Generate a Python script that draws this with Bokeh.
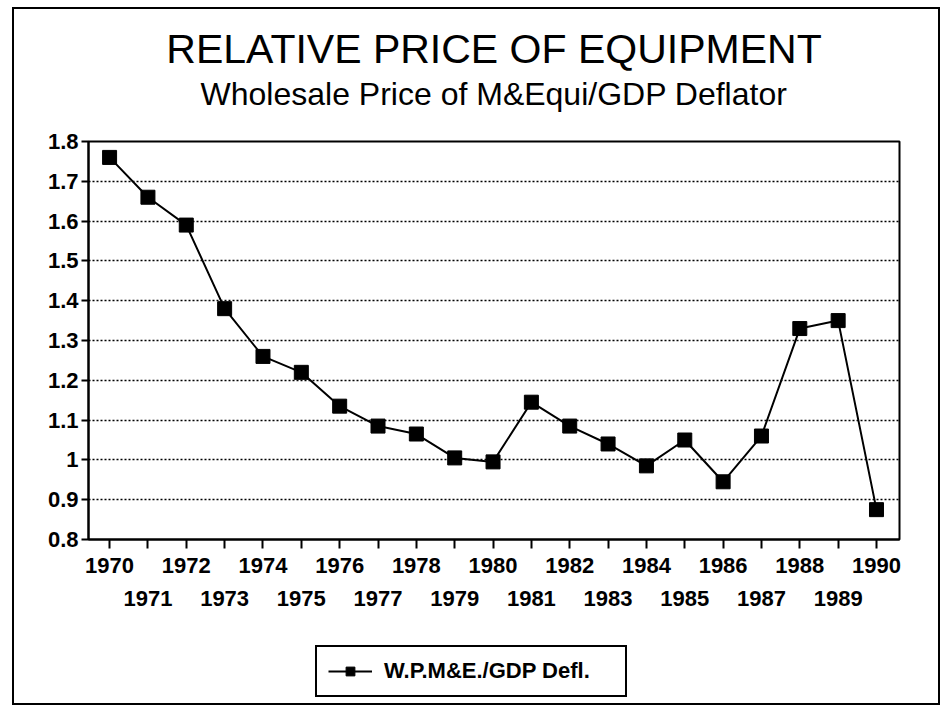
from bokeh.plotting import figure
from bokeh.models import Title, FixedTicker, LinearAxis, Legend, LegendItem, Range1d, Spacer
from bokeh.layouts import column, row
from bokeh.embed import file_html
from bokeh.resources import INLINE

years = list(range(1970, 1991))
values = [1.76, 1.66, 1.59, 1.38, 1.26, 1.22, 1.135, 1.085, 1.065, 1.005, 0.995,
          1.145, 1.085, 1.04, 0.985, 1.05, 0.945, 1.06, 1.33, 1.35, 0.875]
y_ticks = [0.8, 0.9, 1.0, 1.1, 1.2, 1.3, 1.4, 1.5, 1.6, 1.7, 1.8]
y_tick_labels = ["0.8", "0.9", "1", "1.1", "1.2", "1.3", "1.4", "1.5", "1.6", "1.7", "1.8"]
odd_years = [y for y in years if y % 2 == 1]
title_text = "RELATIVE PRICE OF EQUIPMENT"
subtitle_text = "Wholesale Price of M&Equi/GDP Deflator"
series_name = "W.P.M&E./GDP Defl."

FONT = "Liberation Sans"

p = figure(width=924, height=620, output_backend="svg", toolbar_location=None,
           title=None, x_axis_location=None,
           x_range=Range1d(1969.45, 1990.6), y_range=Range1d(0.8, 1.8),
           min_border_left=74, min_border_right=39, min_border_top=132,
           min_border_bottom=90)

sub = Title(text=subtitle_text, align="center", text_font=FONT, text_color="black",
            text_font_size="32px", text_font_style="normal", standoff=59)
p.add_layout(sub, "above")
main = Title(text=title_text, align="center", text_font=FONT, text_color="black",
             text_font_size="41px", text_font_style="normal", standoff=-54)
p.add_layout(main, "above")

p.outline_line_color = "black"
p.outline_line_width = 2
p.background_fill_color = "white"
p.border_fill_color = "white"

# y axis
yax = p.yaxis[0]
yax.ticker = FixedTicker(ticks=y_ticks)
yax.major_label_overrides = dict(zip(y_ticks, y_tick_labels))
yax.minor_tick_line_color = None
yax.major_tick_in = 0
yax.major_tick_out = 7
yax.major_tick_line_width = 2
yax.axis_line_width = 2
yax.major_label_text_color = "black"
yax.major_label_text_font = FONT
yax.major_label_text_font_style = "bold"
yax.major_label_text_font_size = "22px"
yax.major_label_standoff = 3

p.ygrid.ticker = FixedTicker(ticks=y_ticks)
p.ygrid.grid_line_color = "black"
p.ygrid.grid_line_dash = "2 2"
p.ygrid.grid_line_width = 1.5
p.xgrid.visible = False

# x axes: even years on the first row, odd years on the second row
xax1 = LinearAxis(ticker=FixedTicker(ticks=years),
                  major_label_overrides={y: "" for y in odd_years})
xax1.minor_tick_line_color = None
xax1.major_tick_in = 0
xax1.major_tick_out = 9
xax1.major_tick_line_width = 2
xax1.axis_line_width = 2
xax1.major_label_text_color = "black"
xax1.major_label_text_font = FONT
xax1.major_label_text_font_style = "bold"
xax1.major_label_text_font_size = "22px"
xax1.major_label_standoff = 9
p.add_layout(xax1, "below")

xax2 = LinearAxis(ticker=FixedTicker(ticks=odd_years))
xax2.axis_line_color = None
xax2.major_tick_line_color = None
xax2.minor_tick_line_color = None
xax2.major_tick_in = 0
xax2.major_tick_out = 0
xax2.major_label_text_color = "black"
xax2.major_label_text_font = FONT
xax2.major_label_text_font_style = "bold"
xax2.major_label_text_font_size = "22px"
xax2.major_label_standoff = 15
p.add_layout(xax2, "below")

p.line(years, values, line_color="black", line_width=2)
p.scatter(years, values, marker="square", size=14, fill_color="black", line_color="black")

# legend strip below the chart
leg = figure(width=924, height=74, output_backend="svg", toolbar_location=None,
             title=None, x_axis_location=None, y_axis_location=None,
             x_range=Range1d(0, 1), y_range=Range1d(0, 1), min_border=0)
leg.outline_line_color = None
leg.grid.visible = False
leg.background_fill_color = "white"
leg.border_fill_color = "white"
lr1 = leg.line(years, values, line_color="black", line_width=2)
lr2 = leg.scatter(years, values, marker="square", size=12, fill_color="black", line_color="black")
legend = Legend(items=[LegendItem(label=series_name, renderers=[lr1, lr2])],
                location=(227, 6), orientation="horizontal",
                border_line_color="black", border_line_width=2, border_line_alpha=1.0,
                padding=11, glyph_width=44, glyph_height=22, label_height=22,
                label_width=230, label_standoff=12, margin=0,
                label_text_color="black",
                label_text_font=FONT, label_text_font_style="bold",
                label_text_font_size="22px")
leg.add_layout(legend, "center")

content = column(p, leg, spacing=0, styles={"border": "2px solid black"})
root = row(Spacer(width=12), column(Spacer(height=7), content))

open("out.html", "w").write(file_html(root, INLINE))
